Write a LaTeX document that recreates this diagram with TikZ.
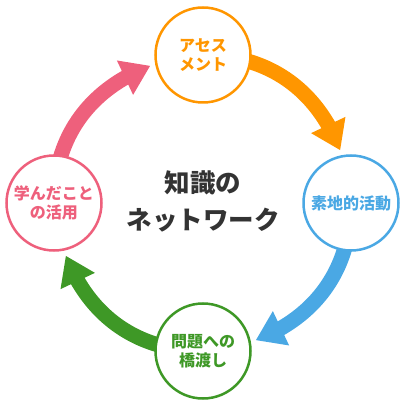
\documentclass[tikz,border=0pt]{standalone}
\usepackage{fontspec}
\setmainfont{Noto Sans CJK JP}
\usetikzlibrary{arrows.meta,bending}

\definecolor{assessorange}{RGB}{255,150,0}
\definecolor{basisblue}{RGB}{74,168,228}
\definecolor{bridgegreen}{RGB}{62,152,38}
\definecolor{applypink}{RGB}{238,96,124}
\definecolor{networkgray}{RGB}{51,51,51}

\tikzstyle{stage} = [align=center, draw, fill=white, circle, line width=2.5pt, minimum size=95pt, inner sep=0pt, font=\bfseries\fontsize{16}{19}\selectfont]
\tikzstyle{cycle} = [line width=15pt, -{Triangle[length=28pt,width=36pt,flex]}]

\pgfdeclarelayer{background}
\pgfsetlayers{background,main}

\begin{document}
\begin{tikzpicture}[x=1pt,y=1pt]
            \useasboundingbox (-203,-203) rectangle (202,203);
            %
            % We start by placing the stages
            \node [stage, draw=assessorange, text=assessorange] (assess) at (0,148) {アセス\\メント};
            \node [stage, draw=basisblue, text=basisblue] (basis) at (148,0) {素地的活動};
            \node [stage, draw=bridgegreen, text=bridgegreen] (bridge) at (0,-148) {問題への\\橋渡し};
            \node [stage, draw=applypink, text=applypink] (apply) at (-149,0) {学んだこと\\の活用};
            \node [align=center, text=networkgray, font=\bfseries\fontsize{25.5}{37}\selectfont] (network) at (0,2) {知識の\\ネットワーク};
            %
            % The arrow tips sit on the big circle
            \coordinate (assesstip) at (21:147);
            \coordinate (basistip) at (-69:147);
            \coordinate (bridgetip) at (-159:147);
            \coordinate (applytip) at (111:147);
            %
            % Arrows go behind the stages
            \begin{pgfonlayer}{background}
            \draw [cycle, assessorange] (assess.center) to[out=0, in=111] (assesstip);
            \draw [cycle, basisblue] (basis.center) to[out=-90, in=21] (basistip);
            \draw [cycle, bridgegreen] (bridge.center) to[out=180, in=-69] (bridgetip);
            \draw [cycle, applypink] (apply.center) to[out=90, in=-159] (applytip);
            \end{pgfonlayer}
            %
        \end{tikzpicture}
\end{document}
